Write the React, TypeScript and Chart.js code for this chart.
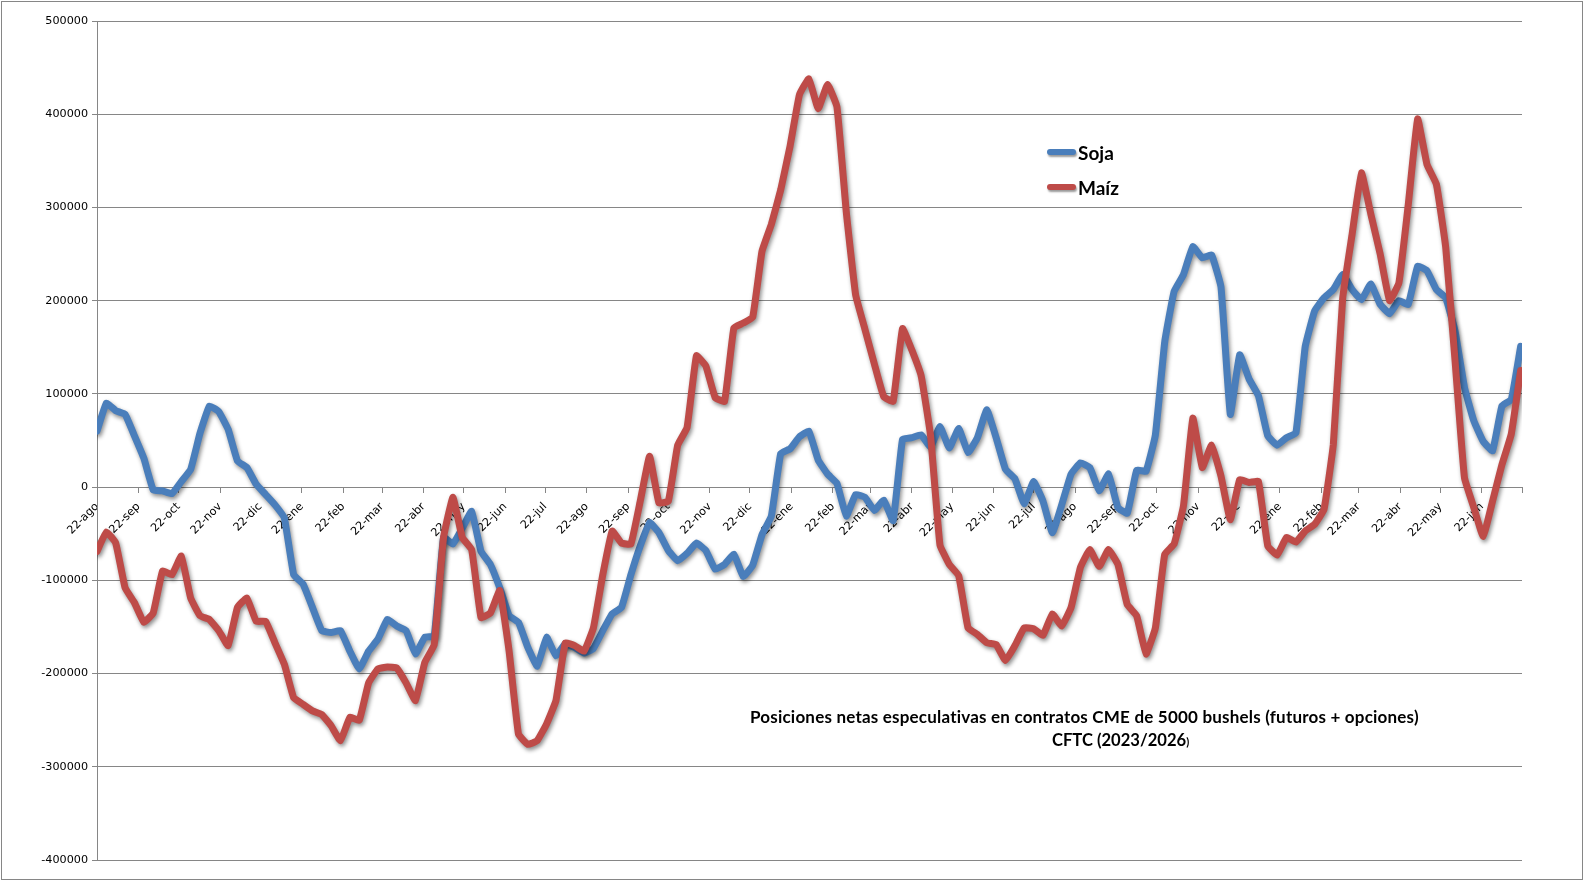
import { useEffect, useRef } from "react"
import { Chart, registerables } from "chart.js"

Chart.register(...registerables)

// Posiciones netas semanales (informe CFTC de los martes), desde el 22-ago-2023
const soja = [
  60000, 90000, 82000, 78000, 55000, 31000, -3000, -4000, -7000, 6000,
  19000, 58000, 87000, 81000, 62000, 28000, 21000, 3000, -8000, -19000,
  -33000, -94000, -104000, -129000, -154000, -156000, -154000, -176000, -195000, -176000,
  -163000, -142000, -149000, -154000, -179000, -161000, -160000, -54000, -61000, -44000,
  -26000, -69000, -83000, -108000, -138000, -145000, -172000, -192000, -161000, -181000,
  -168000, -172000, -178000, -173000, -154000, -136000, -129000, -94000, -63000, -38000,
  -49000, -68000, -79000, -71000, -60000, -68000, -88000, -83000, -72000, -96000,
  -84000, -51000, -31000, 36000, 41000, 54000, 60000, 29000, 14000, 4000,
  -31000, -8000, -11000, -25000, -14000, -36000, 51000, 53000, 56000, 43000,
  65000, 42000, 63000, 37000, 53000, 83000, 53000, 19000, 9000, -18000,
  6000, -15000, -49000, -19000, 14000, 26000, 21000, -4000, 14000, -22000,
  -28000, 18000, 17000, 56000, 156000, 210000, 228000, 258000, 246000, 249000,
  215000, 78000, 142000, 116000, 98000, 55000, 45000, 53000, 58000, 151000,
  189000, 203000, 212000, 228000, 212000, 201000, 218000, 196000, 186000, 200000,
  196000, 237000, 232000, 212000, 203000, 167000, 107000, 71000, 49000, 39000,
  87000, 94000, 151000,
]

const maiz = [
  -69000, -48000, -60000, -108000, -124000, -145000, -135000, -90000, -94000, -74000,
  -119000, -138000, -142000, -154000, -170000, -129000, -119000, -144000, -144000, -167000,
  -190000, -226000, -233000, -240000, -244000, -256000, -272000, -247000, -250000, -210000,
  -195000, -193000, -194000, -210000, -229000, -188000, -169000, -54000, -11000, -54000,
  -67000, -140000, -135000, -111000, -176000, -265000, -276000, -272000, -254000, -229000,
  -167000, -170000, -176000, -151000, -94000, -47000, -60000, -61000, -15000, 33000,
  -17000, -15000, 45000, 64000, 141000, 130000, 96000, 92000, 171000, 176000,
  182000, 253000, 282000, 319000, 366000, 421000, 438000, 406000, 432000, 408000,
  295000, 206000, 169000, 132000, 97000, 92000, 170000, 147000, 119000, 55000,
  -62000, -83000, -95000, -151000, -158000, -167000, -169000, -186000, -170000, -151000,
  -152000, -159000, -136000, -149000, -129000, -86000, -67000, -85000, -67000, -83000,
  -126000, -138000, -179000, -151000, -72000, -61000, -20000, 74000, 21000, 45000,
  12000, -35000, 8000, 5000, 6000, -63000, -73000, -54000, -59000, -47000,
  -40000, -24000, 46000, 203000, 271000, 337000, 293000, 250000, 200000, 219000,
  303000, 395000, 346000, 325000, 257000, 135000, 10000, -22000, -53000, -15000,
  24000, 57000, 125000,
]

// marcas mensuales del eje de fechas (la ultima, 22-jul-2026, sin rotulo)
const rotulosMes = [
  "22-ago", "22-sep", "22-oct", "22-nov", "22-dic", "22-ene", "22-feb", "22-mar", "22-abr", "22-may", "22-jun", "22-jul",
  "22-ago", "22-sep", "22-oct", "22-nov", "22-dic", "22-ene", "22-feb", "22-mar", "22-abr", "22-may", "22-jun", "22-jul",
  "22-ago", "22-sep", "22-oct", "22-nov", "22-dic", "22-ene", "22-feb", "22-mar", "22-abr", "22-may", "22-jun", "",
]

const INICIO = new Date(2023, 7, 22)
const DIA = 86400000
const diasMes = rotulosMes.map((_, k) =>
  Math.round((new Date(2023, 7 + k, 22).getTime() - INICIO.getTime()) / DIA)
)
const diasSemana = soja.map((_, i) => i * 7)

const AZUL = "#4a7ebb"
const ROJO = "#be4b48"
const GRIS = "#868686"

// sombra tipo Excel debajo de las lineas
const sombra = {
  id: "sombraLineas",
  beforeDatasetDraw(chart: Chart) {
    const ctx = chart.ctx
    ctx.save()
    ctx.shadowColor = "rgba(0,0,0,0.45)"
    ctx.shadowBlur = 4
    ctx.shadowOffsetX = 1.5
    ctx.shadowOffsetY = 2.5
  },
  afterDatasetDraw(chart: Chart) {
    chart.ctx.restore()
  },
}

function Leyenda() {
  const items = [
    { nombre: "Soja", color: AZUL, top: 141 },
    { nombre: "Maíz", color: ROJO, top: 176 },
  ]
  return (
    <>
      {items.map((it) => (
        <div
          key={it.nombre}
          style={{ position: "absolute", left: 1047, top: it.top, display: "flex", alignItems: "center", height: 22 }}
        >
          <span
            style={{
              display: "inline-block",
              width: 29,
              height: 6,
              borderRadius: 3,
              background: it.color,
              boxShadow: "1px 2px 2px rgba(0,0,0,0.4)",
            }}
          />
          <span style={{ marginLeft: 2, font: "bold 19px Lato, sans-serif", color: "#000" }}>{it.nombre}</span>
        </div>
      ))}
    </>
  )
}

export default function App() {
  const chartRef = useRef<HTMLCanvasElement>(null)
  const chartInstance = useRef<Chart | null>(null)

  useEffect(() => {
    if (!chartRef.current) return
    if (chartInstance.current) chartInstance.current.destroy()

    const ctx = chartRef.current.getContext("2d")
    if (!ctx) return

    const fuenteEje = { family: "'DejaVu Sans', sans-serif", size: 11.2 }

    chartInstance.current = new Chart(ctx, {
      type: "line",
      data: {
        datasets: [
          {
            label: "Soja",
            data: soja.map((v, i) => ({ x: diasSemana[i], y: v })),
            borderColor: AZUL,
            borderWidth: 7,
            order: 1,
          },
          {
            label: "Maíz",
            data: maiz.map((v, i) => ({ x: diasSemana[i], y: v })),
            borderColor: ROJO,
            borderWidth: 7,
            order: 0,
          },
        ],
      },
      options: {
        animation: false,
        responsive: false,
        devicePixelRatio: 1,
        layout: { padding: { left: 0, right: 68, top: 21, bottom: 36 } },
        elements: {
          point: { radius: 0 },
          line: { tension: 0.1, borderJoinStyle: "round", borderCapStyle: "round" },
        },
        plugins: {
          legend: { display: false },
          tooltip: { enabled: false },
        },
        scales: {
          x: {
            type: "linear",
            min: 0,
            max: diasMes[diasMes.length - 1],
            position: { y: 0 },
            afterBuildTicks: (scale) => {
              scale.ticks = diasMes.map((d) => ({ value: d }))
            },
            ticks: {
              autoSkip: false,
              minRotation: 45,
              maxRotation: 45,
              padding: 8,
              color: "#000",
              font: fuenteEje,
              callback: (_v, i) => rotulosMes[i],
            },
            grid: { drawOnChartArea: false, drawTicks: true, tickLength: 5, color: GRIS },
            border: { color: GRIS },
          },
          y: {
            min: -400000,
            max: 500000,
            afterFit: (scale) => {
              scale.width = 97
            },
            ticks: {
              stepSize: 100000,
              padding: 4,
              color: "#000",
              font: fuenteEje,
              callback: (v) => String(v),
            },
            grid: { color: GRIS, tickLength: 5 },
            border: { color: GRIS },
          },
        },
      },
      plugins: [sombra],
    })

    return () => {
      if (chartInstance.current) {
        chartInstance.current.destroy()
        chartInstance.current = null
      }
    }
  }, [])

  return (
    <div style={{ position: "fixed", left: 0, top: 0, width: 1590, height: 896, background: "#fff", overflow: "hidden" }}>
      <canvas ref={chartRef} width={1590} height={896} style={{ position: "absolute", left: 0, top: 0, width: 1590, height: 896 }} />
      <div
        style={{
          position: "absolute",
          left: 1,
          top: 1,
          width: 1580,
          height: 877,
          border: `1px solid ${GRIS}`,
          pointerEvents: "none",
        }}
      />
      <Leyenda />
      <div
        style={{
          position: "absolute",
          left: 750,
          top: 706,
          font: "bold 17px Lato, sans-serif",
          letterSpacing: 0.2,
          color: "#000",
          whiteSpace: "nowrap",
        }}
      >
        Posiciones netas especulativas en contratos CME de 5000 bushels (futuros + opciones)
      </div>
      <div style={{ position: "absolute", left: 1052, top: 730, font: "bold 16.6px Lato, sans-serif", color: "#000", whiteSpace: "nowrap" }}>
        CFTC (2023/2026<span style={{ fontSize: 11 }}>)</span>
      </div>
    </div>
  )
}
